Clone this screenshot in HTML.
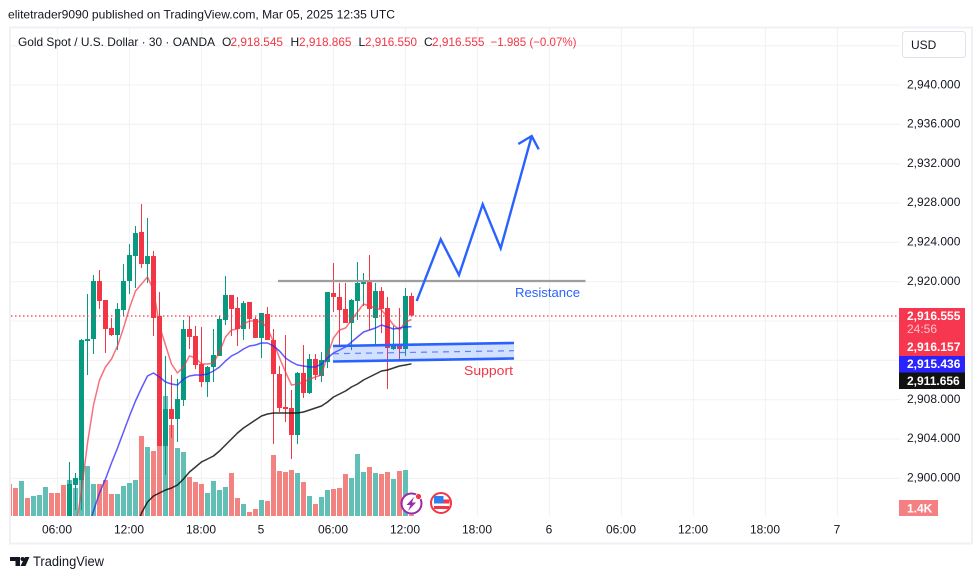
<!DOCTYPE html>
<html lang="en">
<head>
<meta charset="utf-8">
<title>Gold Spot / U.S. Dollar chart</title>
<style>
html,body{margin:0;padding:0;background:#fff;}
#root{position:relative;width:980px;height:579px;overflow:hidden;background:#fff;}
svg{display:block;font-family:"Liberation Sans",Arial,sans-serif;}
</style>
</head>
<body>
<div id="root">
<svg id="chart" width="980" height="579" viewBox="0 0 980 579">
  <defs><clipPath id="paneClip"><rect x="11" y="28" width="889" height="488"/></clipPath></defs>
  <text x="8" y="18.5" font-size="12" fill="#131722" textLength="387" lengthAdjust="spacingAndGlyphs">elitetrader9090 published on TradingView.com, Mar 05, 2025 12:35 UTC</text>
  <rect x="10" y="27.5" width="962" height="516" fill="none" stroke="#f0f1f4" stroke-width="2"/>
  <g id="grid"></g>
  <g id="volumeLayer" clip-path="url(#paneClip)"></g>
  <g id="candleLayer" clip-path="url(#paneClip)"></g>
  <g id="maLayer" clip-path="url(#paneClip)"></g>
  <line x1="11" y1="316" x2="900" y2="316" stroke="#f23645" stroke-width="1.2" stroke-dasharray="1.5 2.5"/>

  <g font-size="12">
    <text x="18" y="46" fill="#131722" textLength="197" lengthAdjust="spacingAndGlyphs">Gold Spot / U.S. Dollar · 30 · OANDA</text>
    <text x="222" y="46" fill="#131722">O</text>
    <text x="230.5" y="46" fill="#f23645" textLength="52.5" lengthAdjust="spacingAndGlyphs">2,918.545</text>
    <text x="290.5" y="46" fill="#131722">H</text>
    <text x="299" y="46" fill="#f23645" textLength="52.5" lengthAdjust="spacingAndGlyphs">2,918.865</text>
    <text x="358.5" y="46" fill="#131722">L</text>
    <text x="365" y="46" fill="#f23645" textLength="52" lengthAdjust="spacingAndGlyphs">2,916.550</text>
    <text x="424" y="46" fill="#131722">C</text>
    <text x="432" y="46" fill="#f23645" textLength="52.5" lengthAdjust="spacingAndGlyphs">2,916.555</text>
    <text x="490.5" y="46" fill="#f23645" textLength="86" lengthAdjust="spacingAndGlyphs">−1.985 (−0.07%)</text>
  </g>

  <g>
    <polygon points="333,346 514,343 514,358.5 333,361.5" fill="#2962ff" fill-opacity="0.2"/>
    <line x1="333" y1="346" x2="514" y2="343" stroke="#2962ff" stroke-width="2.6"/>
    <line x1="333" y1="361.5" x2="514" y2="358.5" stroke="#2962ff" stroke-width="2.6"/>
    <line x1="333" y1="353.7" x2="514" y2="350.7" stroke="#2962ff" stroke-opacity="0.75" stroke-width="1.2" stroke-dasharray="6 5"/>
    <line x1="278" y1="281" x2="585.5" y2="281" stroke="#9e9e9e" stroke-width="2.2"/>
    <polyline points="416.7,301 440.7,239.3 459,275 482.7,204.3 500.7,248.3 531.7,136" fill="none" stroke="#2962ff" stroke-width="2.4" stroke-linejoin="miter"/>
    <polyline points="518.3,144 531.7,136 538.7,149.3" fill="none" stroke="#2962ff" stroke-width="2.4"/>
    <text x="515" y="297" font-size="13" fill="#2962ff" textLength="65" lengthAdjust="spacingAndGlyphs">Resistance</text>
    <text x="464" y="375" font-size="13" fill="#f23645" textLength="49" lengthAdjust="spacingAndGlyphs">Support</text>
  </g>

  <g>
    <circle cx="411.5" cy="503.5" r="10" fill="#fff" stroke="#9c27b0" stroke-width="2"/>
    <polygon points="414,497 406.5,505 410.5,505 408,511 416,502.5 412,502.5" fill="#9c27b0"/>
    <circle cx="418.5" cy="496.5" r="3" fill="#f23645" stroke="#fff" stroke-width="0.8"/>
  </g>
  <g>
    <circle cx="441" cy="503" r="10" fill="#fff" stroke="#f23645" stroke-width="2"/>
    <rect x="434" y="496" width="9.5" height="7.5" fill="#2f80ed"/>
    <rect x="443.5" y="499.5" width="6" height="4" fill="#f23645"/>
    <rect x="434" y="506" width="15" height="3" fill="#f23645"/>
  </g>

  <g id="priceAxis" font-size="12" fill="#131722"></g>
  <g id="timeAxis" font-size="12" fill="#131722" text-anchor="middle"></g>

  <rect x="902.5" y="31.5" width="63" height="26" rx="3" fill="#fff" stroke="#e0e3eb"/>
  <text x="911" y="49" font-size="12" fill="#131722">USD</text>

  <g font-size="12" font-weight="bold" fill="#fff">
    <rect x="899" y="308" width="66" height="48" fill="#f7374f"/>
    <text x="907" y="320.2">2,916.555</text>
    <text x="907" y="333.2" font-weight="normal" fill="#fdc4cb">24:56</text>
    <text x="907" y="351.2">2,916.157</text>
    <rect x="899" y="356" width="66" height="16.5" fill="#2a22ff"/>
    <text x="907" y="368.2">2,915.436</text>
    <rect x="899" y="372.5" width="66" height="16.5" fill="#111111"/>
    <text x="907" y="385.2">2,911.656</text>
    <rect x="899" y="500" width="39" height="16" fill="#f58084"/>
    <text x="907" y="512.5">1.4K</text>
  </g>

  <g>
    <polygon points="10,557 20,557 20,566 15.5,566 15.5,561 10,561" fill="#131722"/>
    <circle cx="22.5" cy="559" r="2" fill="#131722"/>
    <polygon points="25,557 29.5,557 25.5,566 20.5,566" fill="#131722"/>
    <text x="33" y="566" font-size="13.5" fill="#131722" textLength="71" lengthAdjust="spacingAndGlyphs">TradingView</text>
  </g>
</svg>
</div>
<script>
// ---- data ----
const priceTicks = [2940, 2936, 2932, 2928, 2924, 2920, 2908, 2904, 2900];
const gridPrices = [2944, 2940, 2936, 2932, 2928, 2924, 2920, 2916, 2912, 2908, 2904, 2900];
const timeTickBars = [7, 19, 31, 41, 53, 65, 77, 89, 101, 113, 125, 137];
const timeTickLabels = ["06:00", "12:00", "18:00", "5", "06:00", "12:00", "18:00", "6", "06:00", "12:00", "18:00", "7"];

// bar index of the first entry in each series
const volumeFirstBar = -1;
const candleFirstBar = 9;
const redMaFirstBar = 10;
const blueMaFirstBar = 12;
const blackMaFirstBar = 20;

const volumes = [16,14,17.5,9,10,10.5,14.5,11.5,11.5,15.5,18,14,18,25,16,16,18,11,11,15,16.5,18,40,34.5,32.5,35,60,45.5,34,32,19.5,17,16,11.5,17.5,13,14.5,21.5,9,6,2,3.5,8,7.5,30.5,22.5,22,23,21.5,17,10,6,9.5,13,13.5,14,21,19,31,22,24.5,21.5,21,22,18.5,22.5,23,0.7];
const volumeUp = [0,0,1,0,1,1,1,0,0,0,1,1,1,1,1,0,0,0,1,1,1,1,0,1,0,0,1,0,1,1,0,0,0,1,1,1,1,0,0,1,0,0,1,0,0,0,0,0,1,0,1,0,1,1,0,0,0,1,1,1,0,1,0,0,1,0,1,0];

const opens = [2894.75,2899.33,2899.83,2913.97,2914.17,2920.07,2918.14,2915.29,2914.58,2917.12,2920.07,2922.61,2925.06,2921.80,2922.61,2916.51,2903.29,2907.05,2906.04,2907.97,2915.19,2914.48,2911.63,2909.80,2911.33,2912.45,2916.11,2918.65,2917.33,2915.19,2917.94,2916.21,2914.28,2916.72,2914.07,2910.61,2907.26,2907.16,2904.41,2910.72,2908.68,2912.14,2910.41,2911.83,2918.85,2918.45,2917.23,2915.80,2918.04,2919.77,2920.07,2916.31,2919.06,2917.33,2913.16,2913.66,2913.16,2918.545];
const highs = [2901.67,2900.55,2914.17,2918.75,2920.68,2921.19,2918.14,2916.31,2917.83,2921.80,2923.83,2925.67,2927.90,2926.48,2923.12,2918.95,2912.45,2910.51,2910.11,2916.11,2916.51,2915.50,2915.39,2911.43,2915.19,2916.51,2920.58,2918.65,2918.45,2918.04,2917.94,2916.41,2916.82,2917.43,2915.19,2911.43,2914.58,2908.99,2910.82,2913.56,2912.65,2912.65,2912.85,2918.95,2921.90,2919.87,2919.87,2918.24,2922.00,2920.89,2922.72,2919.87,2919.46,2918.45,2915.50,2917.33,2919.36,2918.865];
const lows = [2894.75,2896.78,2896.78,2910.51,2912.65,2917.23,2912.75,2914.48,2913.06,2916.51,2918.75,2919.36,2921.39,2919.87,2914.48,2903.29,2900.34,2904.10,2903.70,2907.36,2913.16,2911.12,2909.29,2908.28,2909.80,2912.45,2915.60,2914.48,2913.46,2914.07,2915.19,2914.28,2912.24,2914.07,2903.50,2906.75,2905.73,2901.97,2903.50,2908.18,2908.58,2910.00,2909.80,2911.22,2916.92,2913.56,2915.80,2913.06,2916.11,2917.53,2915.09,2913.56,2914.78,2909.09,2913.06,2912.04,2912.45,2916.550];
const closes = [2899.43,2900.04,2914.07,2914.17,2920.07,2918.04,2915.19,2914.58,2917.23,2920.07,2922.72,2924.95,2921.80,2922.61,2916.31,2903.29,2907.05,2906.04,2908.07,2915.19,2914.38,2911.53,2909.80,2911.33,2912.55,2916.21,2918.65,2917.23,2915.19,2917.83,2916.21,2914.28,2916.82,2914.07,2910.61,2907.16,2907.05,2904.41,2910.72,2908.68,2912.14,2910.51,2912.04,2918.95,2918.45,2917.12,2915.80,2918.14,2919.87,2920.07,2917.23,2919.06,2917.23,2913.26,2913.56,2913.16,2918.55,2916.555];

const redMa = [2894.75,2898.72,2903.60,2907.46,2910.00,2911.33,2912.14,2913.46,2915.29,2917.33,2919.06,2919.77,2920.48,2919.16,2915.50,2913.56,2911.63,2910.72,2911.33,2912.45,2912.24,2911.63,2911.63,2911.73,2912.85,2914.38,2915.09,2915.19,2915.70,2916.00,2916.00,2915.90,2915.29,2913.87,2912.24,2910.82,2909.50,2909.60,2909.80,2910.11,2910.31,2910.51,2912.55,2914.28,2915.09,2915.29,2916.11,2916.92,2917.73,2917.53,2917.33,2917.12,2916.41,2915.60,2915.09,2915.90,2916.157];
const blueMa = [2894.75,2896.68,2898.51,2899.94,2901.56,2903.09,2904.72,2906.34,2907.87,2909.19,2910.41,2910.72,2910.31,2909.80,2909.60,2909.50,2910.11,2910.41,2910.51,2910.51,2910.61,2910.92,2911.33,2911.94,2912.45,2912.75,2913.16,2913.46,2913.56,2913.77,2913.77,2913.46,2912.95,2912.24,2911.83,2911.53,2911.43,2911.33,2911.33,2911.63,2912.24,2912.75,2913.06,2913.36,2913.87,2914.38,2914.89,2915.09,2915.29,2915.60,2915.39,2915.19,2915.29,2915.39,2915.436];
const blackMa = [2894.75,2896.48,2897.60,2898.21,2898.51,2898.82,2899.02,2899.33,2899.94,2900.65,2901.16,2901.67,2901.97,2902.27,2902.78,2903.39,2904.00,2904.61,2905.12,2905.53,2905.94,2906.34,2906.55,2906.65,2906.65,2906.65,2906.65,2906.65,2906.75,2906.95,2907.16,2907.36,2907.77,2908.28,2908.58,2908.89,2909.29,2909.60,2910.00,2910.31,2910.61,2910.92,2911.02,2911.22,2911.43,2911.53,2911.656];

// ---- axis functions ----
const SVGNS = "http://www.w3.org/2000/svg";
const paneLeft = 11, paneRight = 900, paneTop = 28, paneBottom = 516;
function xOfBar(bar) { return 15.5 + 6 * bar; }
function yOfPrice(price) { return 85.05 + (2940 - price) * 9.833; }
function volHeight(v) { return v * 2; }
function fmtPrice(p) {
  const s = p.toFixed(3);
  return s.slice(0, 1) + "," + s.slice(1);
}
function make(tag, parent, attrs) {
  const el = document.createElementNS(SVGNS, tag);
  for (const k in attrs) el.setAttribute(k, attrs[k]);
  parent.appendChild(el);
  return el;
}

// ---- grid ----
const gridG = document.getElementById("grid");
gridPrices.forEach(function (p) {
  const y = yOfPrice(p);
  const ln = make("line", gridG, { x1: paneLeft, x2: paneRight, y1: y, y2: y, stroke: "#f2f3f5", "stroke-width": 1.2 });
  
  
});
timeTickBars.forEach(function (b) {
  const x = xOfBar(b);
  const ln = make("line", gridG, { x1: x, x2: x, y1: paneTop, y2: paneBottom, stroke: "#f2f3f5", "stroke-width": 1.2 });
  
  
});

// ---- volume ----
const volG = document.getElementById("volumeLayer");
volumes.forEach(function (v, k) {
  const bar = volumeFirstBar + k;
  const h = volHeight(v);
  const r = make("rect", volG, {
    x: xOfBar(bar) - 2.5, y: paneBottom - h, width: 5, height: h,
    fill: volumeUp[k] ? "rgba(38,166,154,0.72)" : "rgba(239,83,80,0.72)"
  });
  
  
});

// ---- candles ----
const candleG = document.getElementById("candleLayer");
opens.forEach(function (o, k) {
  const bar = candleFirstBar + k;
  const c = closes[k], up = c >= o, col = up ? "#089981" : "#f23645";
  const cx = xOfBar(bar);
  const g = make("g", candleG, {});
  
  
  make("rect", g, { x: cx - 0.5, y: yOfPrice(highs[k]), width: 1, height: Math.max(1, yOfPrice(lows[k]) - yOfPrice(highs[k])), fill: col });
  const top = yOfPrice(Math.max(o, c)), bot = yOfPrice(Math.min(o, c));
  make("rect", g, { x: cx - 2.5, y: top, width: 5, height: Math.max(1, bot - top), fill: col });
});

// ---- moving averages ----
const maG = document.getElementById("maLayer");
function drawMa(values, first, color, width, opacity, name) {
  const pts = values.map(function (p, k) { return xOfBar(first + k) + "," + yOfPrice(p).toFixed(1); }).join(" ");
  const pl = make("polyline", maG, { points: pts, fill: "none", stroke: color, "stroke-width": width, "stroke-opacity": opacity, "stroke-linejoin": "round" });
  
  
}
drawMa(redMa, redMaFirstBar, "#f23645", 1.5, 0.7, "red-moving-average");
drawMa(blueMa, blueMaFirstBar, "#2a22ff", 1.5, 0.75, "blue-moving-average");
drawMa(blackMa, blackMaFirstBar, "#111111", 1.5, 0.85, "black-moving-average");

// ---- axes ----
const priceAxisG = document.getElementById("priceAxis");
priceTicks.forEach(function (p) {
  const t = make("text", priceAxisG, { x: 907, y: yOfPrice(p) + 3.2 });
  t.textContent = fmtPrice(p);
  
  
});
const timeAxisG = document.getElementById("timeAxis");
timeTickBars.forEach(function (b, k) {
  const t = make("text", timeAxisG, { x: xOfBar(b) - 0.5, y: 533.5 });
  t.textContent = timeTickLabels[k];
  
  
});
</script>
</body>
</html>
